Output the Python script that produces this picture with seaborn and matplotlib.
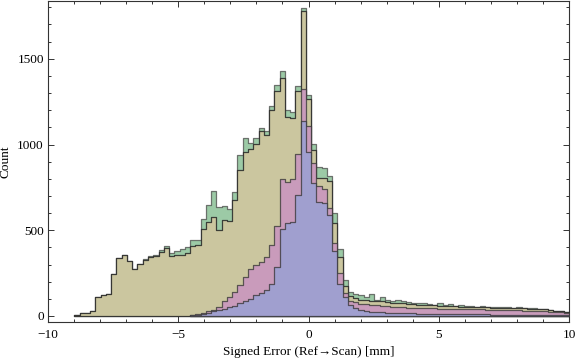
import numpy as np
import pandas as pd
import matplotlib
matplotlib.use('Agg')
import matplotlib.pyplot as plt
from matplotlib.ticker import MultipleLocator
import seaborn as sns

# 99 bins spanning -10 .. 10 (counts, bin by bin)
bin_edges = np.linspace(-10, 10, 100)
bin_width = bin_edges[1] - bin_edges[0]

green = [0, 0, 0, 0, 0, 8, 16, 16, 31, 111,
         122, 126, 243, 341, 358, 318, 272, 301, 332, 349,
         355, 384, 407, 365, 380, 388, 403, 442, 446, 566,
         650, 731, 638, 640, 626, 725, 941, 1040, 1011, 1036,
         1098, 1079, 1226, 1348, 1428, 1199, 1189, 1344, 1796, 1290,
         1005, 869, 865, 815, 598, 388, 210, 140, 128, 122,
         113, 126, 93, 109, 93, 87, 93, 87, 83, 78,
         78, 74, 70, 64, 74, 62, 72, 60, 62, 58,
         56, 55, 57, 54, 52, 54, 50, 52, 48, 50,
         46, 47, 44, 42, 40, 36, 32, 27, 22]

olive = [0, 0, 0, 0, 0, 6, 16, 16, 31, 109,
         120, 126, 243, 341, 357, 318, 272, 301, 324, 343,
         349, 372, 395, 349, 357, 353, 365, 411, 413, 510,
         549, 578, 504, 559, 555, 679, 854, 956, 976, 1005,
         1079, 1053, 1199, 1315, 1389, 1160, 1156, 1310, 1777, 1267,
         970, 807, 805, 790, 545, 345, 173, 115, 105, 95,
         92, 88, 85, 86, 80, 78, 77, 75, 72, 70,
         67, 64, 64, 62, 60, 58, 60, 56, 55, 54,
         52, 52, 51, 50, 49, 48, 47, 47, 46, 45,
         44, 43, 42, 40, 38, 35, 32, 28, 24]

pink = [0] * 27 + [5, 12, 20,
        27, 35, 55, 85, 113, 138, 180, 230, 272, 300,
        312, 345, 413, 525, 801, 782, 801, 943, 1325, 1110,
        893, 760, 743, 627, 428, 248, 137, 90, 79, 72,
        70, 66, 64, 60, 56, 54, 52, 50, 48, 47,
        46, 45, 45, 44, 43, 42, 42, 41, 40, 40,
        39, 38, 38, 37, 36, 36, 35, 34, 33, 33,
        32, 31, 30, 29, 28, 26, 24, 21, 18]

blue = [0] * 27 + [3, 8, 14,
        20, 27, 33, 41, 50, 60, 75, 88, 100, 120,
        132, 150, 186, 287, 510, 540, 549, 704, 1137, 956,
        777, 662, 660, 590, 380, 188, 110, 64, 45, 35,
        29, 25, 24, 22, 20, 18, 17, 16, 15, 15,
        14, 14, 13, 13, 12, 12, 11, 11, 10, 10,
        10, 9, 9, 9, 8, 8, 8, 7, 7, 7,
        6, 6, 6, 5, 5, 5, 4, 4, 3]

series = [
    (green, '#9ccaa6', (0.25, 0.25, 0.25, 0.7)),
    (olive, '#cbc69f', (0.15, 0.15, 0.15, 0.85)),
    (pink, '#c99bbb', (0.2, 0.2, 0.2, 0.75)),
    (blue, '#a09fcf', (0.2, 0.2, 0.2, 0.75)),
]

plt.rcParams['font.family'] = ['Liberation Serif', 'DejaVu Serif']
plt.rcParams['axes.unicode_minus'] = True

fig = plt.figure(figsize=(5.76, 3.62), dpi=100)
ax = fig.add_axes([48 / 576, 1 - 322 / 362, 521 / 576, 321 / 362])

centers = (bin_edges[:-1] + bin_edges[1:]) / 2
for i, (counts, face, edge) in enumerate(series):
    counts = np.array(counts)
    nz = np.nonzero(counts)[0]
    lo, hi = nz[0], nz[-1] + 1
    df = pd.DataFrame({'error': centers[lo:hi], 'count': counts[lo:hi]})
    sns.histplot(data=df, x='error', weights='count', binwidth=bin_width,
                 binrange=(bin_edges[lo], bin_edges[hi]),
                 element='step', fill=True, color=face, alpha=1,
                 edgecolor=edge, linewidth=0.9, ax=ax, zorder=2 + i)

ax.set_xlim(-10, 10)
ax.set_ylim(-35, 1837)
ax.set_xticks([-10, -5, 0, 5, 10])
ax.set_yticks([0, 500, 1000, 1500])
ax.xaxis.set_minor_locator(MultipleLocator(1))
ax.yaxis.set_minor_locator(MultipleLocator(100))
ax.tick_params(which='both', direction='in', top=True, right=True,
               color='#333333', labelsize=9.5, width=0.7)
ax.tick_params(which='major', length=4)
ax.tick_params(which='minor', length=2)
ax.tick_params(axis='x', pad=5)
ax.tick_params(axis='y', pad=3)
for s in ax.spines.values():
    s.set_color('#333333')
    s.set_linewidth(0.8)

ax.set_xlabel('Signed Error (Ref\u2192Scan) [mm]', fontsize=9.5, labelpad=4)
ax.set_ylabel('Count', fontsize=9.5, labelpad=4)

fig.savefig('out.png', dpi=100)
